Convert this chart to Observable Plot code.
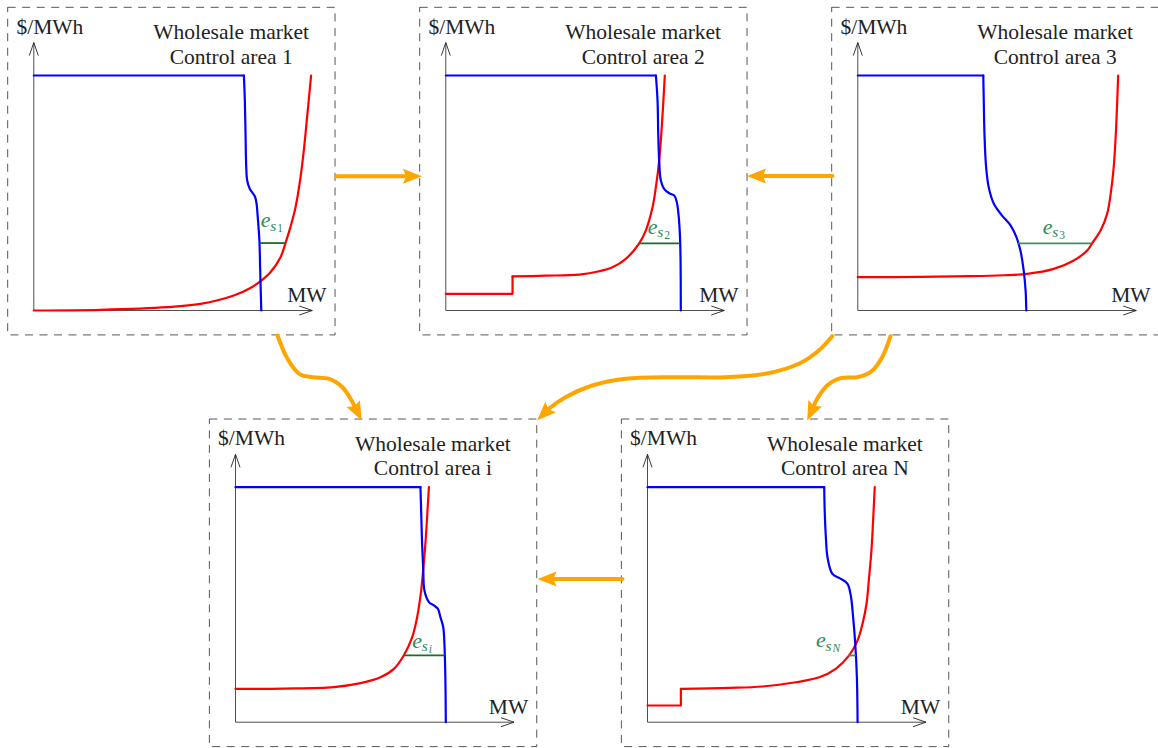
<!DOCTYPE html>
<html>
<head>
<meta charset="utf-8">
<script src="https://cdn.jsdelivr.net/npm/d3@7"></script>
<script src="https://cdn.jsdelivr.net/npm/@observablehq/plot@0.6"></script>
<style>
  html, body { margin: 0; padding: 0; background: #fff; }
  #chart { position: absolute; left: 0; top: 0; }
</style>
</head>
<body>
<div id="chart"></div>
<script>
// ---------------- DATA (local units: MW on x, $/MWh on y, price cap = 100) ----------------
const areas = ["1", "2", "3", "i", "N"];
const priceCap = 100;

// demand (blue): first point is the end of the price cap, then the drop to zero price
const demand1 = [[89.4,100],[89.8,89.4],[90.1,75.2],[90.4,61],[90.8,55.3],[91.9,51.8],[93.2,49.9],[94.2,48.2],[94.8,45.4],[95.3,39.7],[96,29.8],[96.3,18.4],[96.8,0]];
const demand2 = [[89.4,100],[90.1,89.4],[90.4,75.2],[90.8,63.8],[91.5,55.3],[92.9,51.8],[95.1,49.9],[97.2,48.9],[98.3,46.1],[99,41.1],[99.6,32.6],[99.9,21.3],[100,0]];
const demand3 = [[53.4,100],[53.6,89.4],[53.9,75.2],[54.6,61],[55.7,52.5],[57.9,45.4],[61.4,40.4],[65,36.2],[67.5,31.2],[69.2,25.5],[70.6,17],[71.4,8.5],[71.7,0]];
const demandI = [[78.7,100],[79,90.1],[79.4,75.9],[79.9,64.6],[80.4,56],[82.3,51.1],[84.4,49.7],[86.1,48.3],[87.2,44.7],[88.4,40.4],[88.9,33.4],[89.3,19.1],[89.5,0]];
const demandN = [[75.2,100],[75.4,90.1],[75.9,78.7],[76.6,70.2],[78.7,63.1],[82.3,61],[85.1,58.9],[86.5,53.9],[87.5,44.7],[88.4,33.4],[89.1,19.1],[89.4,0]];

// supply (red): optional step block, then the smooth supply curve
const supplyStep1 = [];
const supply1 = [[0,0],[28.4,0.3],[56.8,1.4],[70.9,2.8],[85.1,6.4],[92.2,9.6],[96.5,12.5],[100.7,16.3],[105,22.7],[107.1,28.7],[109.2,35.5],[111.4,44],[113.5,56.7],[114.9,68.1],[116.3,82.3],[118,100]];
const supplyStep2 = [[0,7.1],[28.4,7.1],[28.4,14.5]];
const supply2 = [[28.4,14.5],[42.6,14.8],[56.8,15.3],[65.3,16.7],[70.9,18.4],[76.6,22],[82.3,28.6],[85.1,34],[88,44],[89.4,52.5],[90.8,63.8],[91.9,78],[92.6,89.4],[93.2,100]];
const supplyStep3 = [];
const supply3 = [[0,14.2],[26.7,14.3],[48,14.6],[62.1,15],[72.1,15.6],[83.4,17.7],[91.9,21.3],[97.6,25.5],[99.7,28.6],[103.3,34],[106.1,41.1],[107.8,51.1],[108.9,61],[109.8,75.2],[110.4,89.4],[110.8,100]];
const supplyStepI = [];
const supplyI = [[0,14.2],[20.6,14.3],[41.8,14.9],[53.2,16.6],[61.7,19.1],[67.4,22.7],[71.6,28.4],[75.2,36.2],[77.3,44.7],[79,56],[80.1,67.4],[81,78.7],[81.7,90.1],[82.3,100]];
const supplyStepN = [[0,7.1],[14.2,7.1],[14.2,14.2]];
const supplyN = [[14.2,14.2],[34.8,14.6],[48.9,15.2],[63.1,17],[73.1,19.1],[80.1,22.7],[85.8,28.4],[89.4,34.8],[91.5,41.9],[93.2,50.4],[94.3,61.7],[95.3,73.1],[96,85.8],[96.7,100]];

// green dispatch segment e_s: price, MW from, MW to
const dispatchPrice = [28.7, 28.6, 28.6, 28.4, 28.4];
const dispatchFrom  = [96.4, 82.3, 68.4, 71.6, 85.8];
const dispatchTo    = [107.1, 99.7, 99.7, 89.2, 88.8];

// texts
const yLabel = "$/MWh";
const xLabel = "MW";
const titleLine1 = "Wholesale market";
const titleLine2 = areas.map(a => `Control area ${a}`);

// ---------------- LAYOUT (pixels) ----------------
const W = 1158, H = 748, K = 2.35; // px per local unit
const origin = {"1": [33.3, 310], "2": [445.3, 310], "3": [857.3, 310], "i": [235, 721.7], "N": [647, 721.7]};
const labelPos = {"1": [96.6, 35.4], "2": [85.9, 32.6], "3": [78.7, 32.6], "i": [75.2, 31.7], "N": [71.7, 31.8]};
const box = {u1: -10.9, u2: 128.4, v1: -10.6, v2: 128.8};
const axisEnd = {u: 118.5, v: 114};
const flowPaths = [
  [[336,175.7],[421.5,175.7]],
  [[832,175.5],[746.5,175.5]],
  [[622,578.5],[537,578.5]],
  [[277,335],[287,358.3],[298.7,373.3],[312,376.7],[328.7,378.3],[342,386.7],[352,401.7],[361.3,420]],
  [[831.7,335.7],[818.3,350],[798.3,363.3],[765,373.3],[725,376.7],[675,376.7],[625,378.3],[591.7,385],[565,396.7],[548.3,408.3],[536.7,420]],
  [[890,335.7],[881.7,356.7],[870,371.7],[856.7,376.7],[840,377.7],[826.7,385],[816.7,398.3],[806.7,420]]
];

// ---------------- BUILD ----------------
const demand = {"1": demand1, "2": demand2, "3": demand3, "i": demandI, "N": demandN};
const supplyStep = {"1": supplyStep1, "2": supplyStep2, "3": supplyStep3, "i": supplyStepI, "N": supplyStepN};
const supply = {"1": supply1, "2": supply2, "3": supply3, "i": supplyI, "N": supplyN};
const dispatchColor = {"1": "#1b6e22", "2": "#1b6e22", "3": "#3e8e5e", "i": "#1b6e22", "N": "#3e8e5e"};

const gx = (a, u) => origin[a][0] + u * K;
const gy = (a, v) => origin[a][1] - v * K;
const pt = (a, u, v) => ({area: a, x: gx(a, u), y: gy(a, v)});

const blueCap = areas.flatMap(a => [pt(a, 0, priceCap), pt(a, demand[a][0][0], priceCap)]);
const blueDrop = areas.flatMap(a => demand[a].map(([u, v]) => pt(a, u, v)));
const redStep = areas.flatMap(a => supplyStep[a].map(([u, v]) => pt(a, u, v)));
const redCurve = areas.flatMap(a => supply[a].map(([u, v]) => pt(a, u, v)));
const green = areas.map((a, i) => ({area: a, x1: gx(a, dispatchFrom[i]), x2: gx(a, dispatchTo[i]), y: gy(a, dispatchPrice[i])}));
const panels = areas.map((a, i) => ({
  area: a, x0: gx(a, 0), y0: gy(a, 0),
  xEnd: gx(a, axisEnd.u), yEnd: gy(a, axisEnd.v),
  bx1: gx(a, box.u1), bx2: gx(a, box.u2), by1: gy(a, box.v1), by2: gy(a, box.v2),
  title2: titleLine2[i]
}));
const labels = areas.map(a => ({area: a, x: gx(a, labelPos[a][0]), y: gy(a, labelPos[a][1]), idx: a, italic: a === "i" || a === "N"}));

const ORANGE = "#ffa500";
const HEAD_LEN = 19;
function headSymbol(dx, dy) {
  const len = Math.hypot(dx, dy), s = dx / len, c = -dy / len;
  const pts = [[0,0],[7.5,HEAD_LEN],[0,HEAD_LEN - 3],[-7.5,HEAD_LEN]].map(([x, y]) => [x * c - y * s, x * s + y * c]);
  return {draw(ctx) { ctx.moveTo(pts[0][0], pts[0][1]); for (let k = 1; k < pts.length; k++) ctx.lineTo(pts[k][0], pts[k][1]); ctx.closePath(); }};
}
// open axis arrowhead (TikZ "->" style), tip at origin
function axisHead(dx, dy) {
  const len = Math.hypot(dx, dy), s = dx / len, c = -dy / len;
  const pts = [[-4.5,13],[0,0],[4.5,13]].map(([x, y]) => [x * c - y * s, x * s + y * c]);
  return {draw(ctx) { ctx.moveTo(pts[0][0], pts[0][1]); ctx.lineTo(pts[1][0], pts[1][1]); ctx.lineTo(pts[2][0], pts[2][1]); }};
}
const flowMarks = flowPaths.flatMap(path => {
  const n = path.length, tip = path[n - 1], prev = path[n - 2];
  const dx = tip[0] - prev[0], dy = tip[1] - prev[1], len = Math.hypot(dx, dy);
  const cut = [tip[0] - dx / len * (HEAD_LEN - 5), tip[1] - dy / len * (HEAD_LEN - 5)];
  const shaft = path.slice(0, n - 1).concat([cut]).map(([x, y]) => ({x, y}));
  return [
    Plot.line(shaft, {x: "x", y: "y", stroke: ORANGE, strokeWidth: 4, curve: n > 2 ? "catmull-rom" : "linear"}),
    Plot.dot([{x: tip[0], y: tip[1]}], {x: "x", y: "y", r: 5, symbol: headSymbol(dx, dy), fill: ORANGE, stroke: "none"})
  ];
});

const FONT = "Liberation Serif";
const TXT = {fontFamily: FONT, fill: "#222", lineAnchor: "bottom"};
const LBL = "#2e8b57";

const chart = Plot.plot({
  width: W, height: H,
  margin: 0,
  x: {type: "linear", domain: [0, W], range: [0, W], axis: null},
  y: {type: "linear", domain: [0, H], range: [0, H], axis: null},
  style: {background: "#fff", fontFamily: FONT, overflow: "visible"},
  marks: [
    // dashed panel boxes
    Plot.rect(panels, {x1: "bx1", x2: "bx2", y1: "by1", y2: "by2", fill: "none", stroke: "#444", strokeWidth: 0.9, strokeDasharray: "8,6.5"}),
    // axes with open arrowheads
    Plot.link(panels, {x1: "x0", y1: "y0", x2: "x0", y2: "yEnd", stroke: "#222", strokeWidth: 0.8}),
    Plot.link(panels, {x1: "x0", y1: "y0", x2: "xEnd", y2: "y0", stroke: "#222", strokeWidth: 0.8}),
    Plot.dot(panels, {x: "x0", y: "yEnd", r: 5, symbol: axisHead(0, -1), fill: "none", stroke: "#222", strokeWidth: 0.9}),
    Plot.dot(panels, {x: "xEnd", y: "y0", r: 5, symbol: axisHead(1, 0), fill: "none", stroke: "#222", strokeWidth: 0.9}),
    // axis labels & titles
    Plot.text(panels, {...TXT, x: d => gx(d.area, -7.4), y: d => gy(d.area, 117.8), text: () => yLabel, textAnchor: "start", fontSize: 21.5}),
    Plot.text(panels, {...TXT, x: d => gx(d.area, 107.8), y: d => gy(d.area, 3.5), text: () => xLabel, textAnchor: "start", fontSize: 21.5}),
    Plot.text(panels, {...TXT, x: d => gx(d.area, 84), y: d => gy(d.area, 115.6), text: () => titleLine1, textAnchor: "middle", fontSize: 21.5}),
    Plot.text(panels, {...TXT, x: d => gx(d.area, 84), y: d => gy(d.area, 105), text: "title2", textAnchor: "middle", fontSize: 21.5}),
    // supply (red)
    Plot.line(redStep, {x: "x", y: "y", z: "area", stroke: "#ff0000", strokeWidth: 2.2, strokeLinecap: "round"}),
    Plot.line(redCurve, {x: "x", y: "y", z: "area", stroke: "#ff0000", strokeWidth: 2.2, curve: "catmull-rom", strokeLinecap: "round"}),
    // demand (blue)
    Plot.line(blueCap, {x: "x", y: "y", z: "area", stroke: "#0000ff", strokeWidth: 2.2, strokeLinecap: "round"}),
    Plot.line(blueDrop, {x: "x", y: "y", z: "area", stroke: "#0000ff", strokeWidth: 2.2, curve: "catmull-rom", strokeLinecap: "round"}),
    // dispatch e_s (green)
    Plot.ruleY(green, {x1: "x1", x2: "x2", y: "y", stroke: d => dispatchColor[d.area], strokeWidth: 1.8}),
    Plot.text(labels, {x: "x", y: "y", text: () => "e", fontFamily: FONT, fontStyle: "italic", fontSize: 22, fill: LBL, textAnchor: "start", lineAnchor: "bottom"}),
    Plot.text(labels, {x: "x", y: "y", text: () => "s", dx: 9.5, dy: 3.5, fontFamily: FONT, fontStyle: "italic", fontSize: 15.5, fill: LBL, textAnchor: "start", lineAnchor: "bottom"}),
    Plot.text(labels.filter(d => !d.italic), {x: "x", y: "y", text: "idx", dx: 16.5, dy: 5, fontFamily: FONT, fontSize: 11.5, fill: LBL, textAnchor: "start", lineAnchor: "bottom"}),
    Plot.text(labels.filter(d => d.italic), {x: "x", y: "y", text: "idx", dx: 16.5, dy: 5, fontFamily: FONT, fontStyle: "italic", fontSize: 11.5, fill: LBL, textAnchor: "start", lineAnchor: "bottom"}),
    // interconnection flows (orange)
    ...flowMarks
  ]
});
document.getElementById("chart").appendChild(chart);
</script>
</body>
</html>
